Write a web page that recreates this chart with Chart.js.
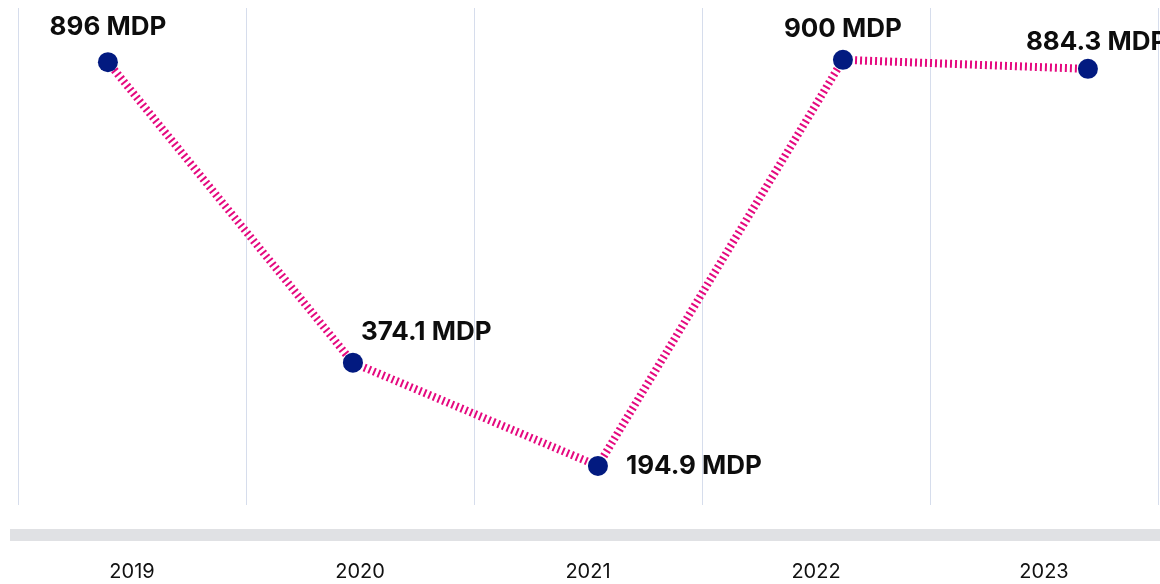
<!DOCTYPE html>
<html>
<head>
<meta charset="utf-8">
<script src="https://cdn.jsdelivr.net/npm/chart.js@4"></script>
<style>
  body { margin: 0; background: #fff; }
  canvas { display: block; }
</style>
</head>
<body>
<canvas id="chart" width="1160" height="584"></canvas>
<script>
var years = ['2019', '2020', '2021', '2022', '2023'];
var values = [896, 374.1, 194.9, 900, 884.3];
var valueLabels = ['896 MDP', '374.1 MDP', '194.9 MDP', '900 MDP', '884.3 MDP'];
// where each label sits relative to its point: [dx, dy, align]
var labelPlace = [[0, -35, 'center'], [8, -31, 'left'], [28, 0, 'left'], [0, -31, 'center'], [-62, -27, 'left']];

var grayBand = {
    id: 'grayBand',
    beforeDraw: function (chart) {
        var c = chart.ctx;
        c.save();
        c.fillStyle = '#e0e1e4';
        c.fillRect(10, 529, 1150, 12);
        c.restore();
    }
};

var pointLabels = {
    id: 'pointLabels',
    afterDatasetsDraw: function (chart) {
        var c = chart.ctx;
        var meta = chart.getDatasetMeta(0);
        c.save();
        c.font = '700 26px Inter';
        c.fillStyle = '#0d0d0d';
        c.textBaseline = 'middle';
        meta.data.forEach(function (pt, i) {
            var p = labelPlace[i];
            c.textAlign = p[2];
            c.fillText(valueLabels[i], pt.x + p[0], pt.y + p[1]);
        });
        c.restore();
    }
};

var ctx = document.getElementById('chart');
window.myChart = new Chart(ctx, {
    type: 'line',
    data: {
        labels: years,
        datasets: [{
            data: years.map(function (y, i) { return { x: i, y: values[i] }; }),
            xAxisID: 'x2',
            borderColor: '#e5097f',
            borderWidth: 8,
            borderDash: [2, 3],
            pointRadius: 10,
            pointHoverRadius: 10,
            pointBackgroundColor: '#021a80',
            pointBorderWidth: 0,
            tension: 0,
            clip: false
        }]
    },
    options: {
        responsive: false,
        animation: false,
        layout: {
            autoPadding: false,
            padding: { left: 18, right: 2, top: 8, bottom: 0 }
        },
        plugins: {
            legend: { display: false },
            tooltip: { enabled: false }
        },
        scales: {
            x: {
                type: 'category',
                offset: true,
                grid: {
                    offset: true,
                    color: '#d6ddec',
                    lineWidth: 1,
                    drawTicks: false
                },
                border: { display: false },
                ticks: {
                    padding: 55,
                    color: '#111',
                    font: { family: 'Inter', size: 20 }
                },
                afterFit: function (scale) {
                    scale.height = 79;
                    scale.paddingLeft = 0;
                    scale.paddingRight = 0;
                }
            },
            x2: {
                type: 'linear',
                display: false,
                min: -0.367,
                max: 4.286
            },
            y: {
                display: false,
                min: 127,
                max: 990
            }
        }
    },
    plugins: [grayBand, pointLabels]
});
</script>
</body>
</html>
